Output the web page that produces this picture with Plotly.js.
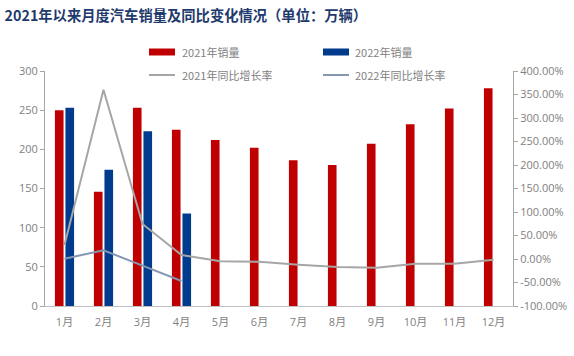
<!DOCTYPE html>
<html><head><meta charset="utf-8">
<script src="https://cdn.plot.ly/plotly-3.0.1.min.js"></script>
<style>html,body{margin:0;padding:0;background:#fff}#c{width:574px;height:356px}</style>
</head><body><div id="c"></div>
<script>
const months = ['1月','2月','3月','4月','5月','6月','7月','8月','9月','10月','11月','12月'];
const sales2021 = [250, 146, 253, 225, 212, 202, 186, 180, 207, 232, 252, 278];
const sales2022 = [253, 174, 223, 118];
const yoy2021 = [30, 360, 74.5, 8.5, -5, -5.7, -12, -17, -18.4, -10, -10, -1.5];
const yoy2022 = [0.7, 18.5, -14, -46.8];
const y2TickVals = [-100, -50, 0, 50, 100, 150, 200, 250, 300, 350, 400];
const y2TickText = ['-100.00%','-50.00%','0.00%','50.00%','100.00%','150.00%','200.00%','250.00%','300.00%','350.00%','400.00%'];
const legendNames = ['2021年销量','2022年销量','2021年同比增长率','2022年同比增长率'];

const W=574,H=356,L=45,R=61,T=71,B=50;
const pw=W-L-R, ph=H-T-B;
const px=x=>(x-L)/pw, py=y=>(H-B-y)/ph;
const colors = ['#C00000','#003B8E','#A6A6A6','#8497B0'];
const font = {family:'"Open Sans", "Noto Sans CJK SC", sans-serif', size:11, color:'#7F7F7F'};

const data = [
  {type:'bar', x:months, y:sales2021, name:legendNames[0], marker:{color:colors[0]}, showlegend:false},
  {type:'bar', x:months.slice(0,sales2022.length), y:sales2022, name:legendNames[1], marker:{color:colors[1]}, showlegend:false},
  {type:'scatter', mode:'lines', x:months, y:yoy2021, yaxis:'y2', name:legendNames[2], line:{color:colors[2], width:2}, showlegend:false},
  {type:'scatter', mode:'lines', x:months.slice(0,yoy2022.length), y:yoy2022, yaxis:'y2', name:legendNames[3], line:{color:colors[3], width:2}, showlegend:false}
];

const shapes = [
  {type:'rect', xref:'paper', yref:'paper', x0:px(149), x1:px(175), y0:py(55.5), y1:py(48.5), fillcolor:colors[0], line:{width:0}},
  {type:'rect', xref:'paper', yref:'paper', x0:px(323), x1:px(349), y0:py(55.5), y1:py(48.5), fillcolor:colors[1], line:{width:0}},
  {type:'line', xref:'paper', yref:'paper', x0:px(149), x1:px(175), y0:py(75), y1:py(75), line:{color:colors[2], width:2}},
  {type:'line', xref:'paper', yref:'paper', x0:px(323), x1:px(349), y0:py(75), y1:py(75), line:{color:colors[3], width:2}}
];
const legFont = {family:'"Noto Sans CJK SC", sans-serif', size:11, color:'#7F7F7F'};
const legPos = [[180,52],[353,52],[180,75],[353,75]];
const annotations = legendNames.map((t,i)=>({xref:'paper', yref:'paper', x:px(legPos[i][0]), y:py(legPos[i][1]), text:t, showarrow:false, xanchor:'left', yanchor:'middle', font:legFont}));

const layout = {
  width:W, height:H,
  margin:{l:L, r:R, t:T, b:B, pad:0},
  paper_bgcolor:'#fff', plot_bgcolor:'#fff',
  title:{text:'<b>2021年以来月度汽车销量及同比变化情况（单位：万辆）</b>', x:0.008, xanchor:'left', y:0.955, yanchor:'middle', font:{family:'"Noto Sans CJK SC", sans-serif', size:14.3, color:'#1F3B6E'}},
  barmode:'group', bargap:0.46, bargroupgap:0.18,
  showlegend:false,
  font:font,
  xaxis:{type:'category', showline:true, linecolor:'#BFBFBF', linewidth:1, ticks:'', showgrid:false, zeroline:false, tickfont:font, ticklabelstandoff:6},
  yaxis:{range:[0,300], dtick:50, showline:true, linecolor:'#A6A6A6', linewidth:1, ticks:'outside', ticklen:4, tickcolor:'#A6A6A6', showgrid:false, zeroline:false, tickfont:font},
  yaxis2:{overlaying:'y', side:'right', range:[-100,400], tickvals:y2TickVals, ticktext:y2TickText, showline:true, linecolor:'#A6A6A6', linewidth:1, ticks:'outside', ticklen:4, tickcolor:'#A6A6A6', showgrid:false, zeroline:false, tickfont:font},
  shapes:shapes, annotations:annotations
};
Plotly.newPlot('c', data, layout, {displayModeBar:false, staticPlot:true});
</script>
</body></html>
